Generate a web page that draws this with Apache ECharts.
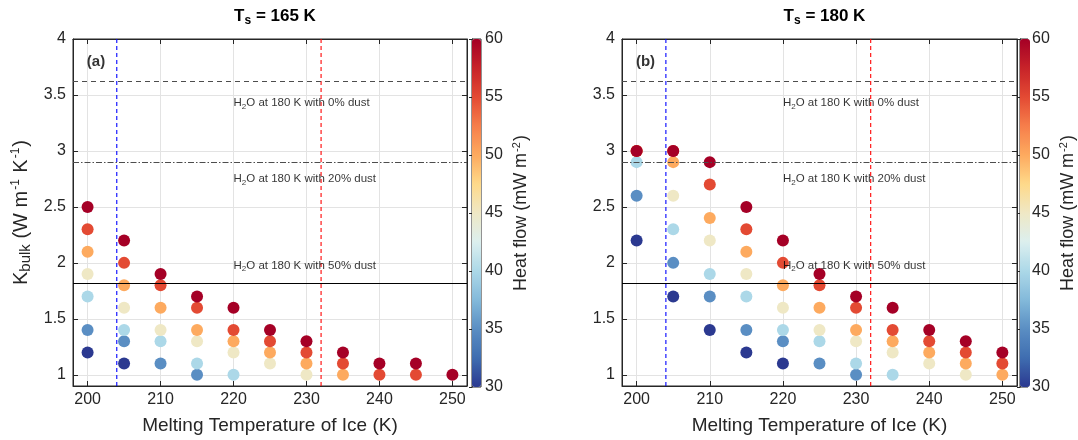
<!DOCTYPE html>
<html>
<head>
<meta charset="utf-8">
<script src="https://cdn.jsdelivr.net/npm/echarts@6/dist/echarts.min.js"></script>
<style>
  html, body { margin: 0; padding: 0; background: #fff; }
  #chart { width: 1078px; height: 440px; }
</style>
</head>
<body>
<div id="chart"></div>
<script>
// melting temperatures of ice (K) and the heat flows (mW m^-2)
var meltTemps = [200, 205, 210, 215, 220, 225, 230, 235, 240, 245, 250];
var heatFlows = [30, 35, 40, 45, 50, 55, 60];

// panel (a): Ts = 165 K, K_bulk per heat flow
var kA30 = [1.2, 1.1, null, null, null, null, null, null, null, null, null];
var kA35 = [1.4, 1.3, 1.1, 1.0, null, null, null, null, null, null, null];
var kA40 = [1.7, 1.4, 1.3, 1.1, 1.0, null, null, null, null, null, null];
var kA45 = [1.9, 1.6, 1.4, 1.3, 1.2, 1.1, 1.0, null, null, null, null];
var kA50 = [2.1, 1.8, 1.6, 1.4, 1.3, 1.2, 1.1, 1.0, null, null, null];
var kA55 = [2.3, 2.0, 1.8, 1.6, 1.4, 1.3, 1.2, 1.1, 1.0, 1.0, null];
var kA60 = [2.5, 2.2, 1.9, 1.7, 1.6, 1.4, 1.3, 1.2, 1.1, 1.1, 1.0];

// panel (b): Ts = 180 K
var kB30 = [2.2, 1.7, 1.4, 1.2, 1.1, null, null, null, null, null, null];
var kB35 = [2.6, 2.0, 1.7, 1.4, 1.3, 1.1, 1.0, null, null, null, null];
var kB40 = [2.9, 2.3, 1.9, 1.7, 1.4, 1.3, 1.1, 1.0, null, null, null];
var kB45 = [3.0, 2.6, 2.2, 1.9, 1.6, 1.4, 1.3, 1.2, 1.1, 1.0, null];
var kB50 = [3.0, 2.9, 2.4, 2.1, 1.8, 1.6, 1.4, 1.3, 1.2, 1.1, 1.0];
var kB55 = [3.0, 3.0, 2.7, 2.3, 2.0, 1.8, 1.6, 1.4, 1.3, 1.2, 1.1];
var kB60 = [3.0, 3.0, 2.9, 2.5, 2.2, 1.9, 1.7, 1.6, 1.4, 1.3, 1.2];

// reference conductivities of H2O at 180 K and the dust fractions
var refK = [3.62, 2.9, 1.82];
var refDust = ['0%', '20%', '50%'];
var refLabelY = [3.43, 2.75, 1.975];
var refLabelX = 220;
var meltLines = [204, 232];
var meltColors = ['#0000ff', '#ff0000'];

var xRange = [198, 252];
var yRange = [0.9, 4];
var xTicks = [200, 210, 220, 230, 240, 250];
var yTicks = [1, 1.5, 2, 2.5, 3, 3.5, 4];
var titles = ['165', '180'];
var panelTags = ['(a)', '(b)'];

var txt = '#262626';
var font = '"Liberation Sans", Arial, Helvetica, sans-serif';
var cmap = ['#2b3990', '#3f6db0', '#5a8ec3', '#83b9da', '#acd8e8', '#dcefef', '#efe8c5',
            '#fed98a', '#fdaa5f', '#f67e4b', '#e34a33', '#c72329', '#a50026'];

function buildPoints(cols){
    var out = [];
    for (var h = 0; h < heatFlows.length; h++){
        for (var i = 0; i < meltTemps.length; i++){
            if (cols[h][i] != null)
                out.push([meltTemps[i], cols[h][i], heatFlows[h]]);
        }
    }
    return out;
}

var pointsA = buildPoints([kA30, kA35, kA40, kA45, kA50, kA55, kA60]);
var pointsB = buildPoints([kB30, kB35, kB40, kB45, kB50, kB55, kB60]);

var panels = [
    {left: 73, width: 394, cbLeft: 472, cbWidth: 9},
    {left: 622, width: 395, cbLeft: 1020, cbWidth: 10}
];

var grids = [], xAxes = [], yAxes = [], series = [], visualMaps = [], titleOpts = [];
var subRich = {
    t: {fontSize: 11.5, color: '#000', fontFamily: font},
    s: {fontSize: 8, color: '#000', fontFamily: font, padding: [7, 0, 0, 0]}
};

panels.forEach(function(p, k){
    var g = k * 2;
    grids.push({left: p.left, width: p.width, top: 39, height: 348,
                show: true, borderColor: txt, borderWidth: 1});
    grids.push({left: p.cbLeft, width: p.cbWidth, top: 39, height: 348,
                show: true, borderColor: txt, borderWidth: 1});

    titleOpts.push({
        text: '{t|T}{s|s}{t| = ' + titles[k] + ' K}',
        left: p.left + p.width / 2, textAlign: 'center', top: 0,
        textStyle: {
            rich: {
                t: {fontSize: 17, fontWeight: 'bold', color: '#000', fontFamily: font},
                s: {fontSize: 12, fontWeight: 'bold', color: '#000', fontFamily: font, padding: [10, 0, 0, 0]}
            }
        }
    });

    // bottom x axis
    xAxes.push({
        type: 'value', gridIndex: g, min: xRange[0], max: xRange[1], position: 'bottom',
        name: 'Melting Temperature of Ice (K)', nameLocation: 'middle', nameGap: 30,
        nameTextStyle: {fontSize: 19, color: txt, fontFamily: font},
        axisLine: {show: true, lineStyle: {color: txt}},
        axisTick: {show: true, inside: true, length: 5, customValues: xTicks, lineStyle: {color: txt}},
        axisLabel: {customValues: xTicks, fontSize: 16, color: txt, fontFamily: font, margin: 6},
        splitLine: {show: true, lineStyle: {color: '#e3e3e3'}}
    });
    // top x axis (box ticks)
    xAxes.push({
        type: 'value', gridIndex: g, min: xRange[0], max: xRange[1], position: 'top',
        axisLine: {show: true, lineStyle: {color: txt}},
        axisTick: {show: true, inside: true, length: 5, customValues: xTicks, lineStyle: {color: txt}},
        axisLabel: {show: false},
        splitLine: {show: false}
    });
    // left y axis
    yAxes.push({
        type: 'value', gridIndex: g, min: yRange[0], max: yRange[1], position: 'left',
        name: k === 0 ? '{t|K}{s|bulk}{t| (W m}{p|-1}{t| K}{p|-1}{t|)}' : '',
        nameLocation: 'middle', nameGap: 40,
        nameTextStyle: {
            rich: {
                t: {fontSize: 20, color: txt, fontFamily: font},
                s: {fontSize: 15, color: txt, fontFamily: font, padding: [9, 0, 0, 0]},
                p: {fontSize: 12, color: txt, fontFamily: font, padding: [0, 1, 10, 1]}
            }
        },
        axisLine: {show: true, lineStyle: {color: txt}},
        axisTick: {show: true, inside: true, length: 5, customValues: yTicks, lineStyle: {color: txt}},
        axisLabel: {customValues: yTicks, fontSize: 16, color: txt, fontFamily: font, margin: 7},
        splitLine: {show: true, lineStyle: {color: '#e3e3e3'}}
    });
    // right y axis (box ticks)
    yAxes.push({
        type: 'value', gridIndex: g, min: yRange[0], max: yRange[1], position: 'right',
        axisLine: {show: true, lineStyle: {color: txt}},
        axisTick: {show: true, inside: true, length: 5, customValues: yTicks, lineStyle: {color: txt}},
        axisLabel: {show: false},
        splitLine: {show: false}
    });

    // colour bar axes
    xAxes.push({type: 'value', gridIndex: g + 1, show: false, min: 0, max: 1});
    yAxes.push({
        type: 'value', gridIndex: g + 1, min: 30, max: 60, interval: 5, position: 'right',
        name: '{t|Heat flow (mW m}{p|-2}{t|)}', nameLocation: 'middle', nameGap: 30,
        nameTextStyle: {
            rich: {
                t: {fontSize: 18, color: txt, fontFamily: font},
                p: {fontSize: 11, color: txt, fontFamily: font, padding: [0, 1, 9, 1]}
            }
        },
        axisLine: {show: true, lineStyle: {color: txt}},
        axisTick: {show: true, inside: true, length: 3, lineStyle: {color: txt}},
        axisLabel: {fontSize: 16, color: txt, fontFamily: font, margin: 4},
        splitLine: {show: false}
    });

    var xi = k * 3, yi = k * 3;
    var refNames = refDust.map(function(d){ return '{t|H}{s|2}{t|O at 180 K with ' + d + ' dust}'; });

    visualMaps.push({
        type: 'continuous', min: 30, max: 60, dimension: 2, seriesIndex: [series.length],
        orient: 'vertical', left: p.cbLeft, top: 39, itemWidth: p.cbWidth, itemHeight: 348,
        padding: 0, calculable: false, text: null, hoverLink: false,
        inRange: {color: cmap}
    });

    series.push({
        type: 'scatter', name: 'points' + k, xAxisIndex: xi, yAxisIndex: yi,
        symbolSize: 12, z: 2, itemStyle: {opacity: 1},
        data: k === 0 ? pointsA : pointsB
    });

    // vertical melting-temperature lines as plain line series
    meltLines.forEach(function(m, j){
        series.push({
            type: 'line', name: 'melt' + k + '_' + j, xAxisIndex: xi, yAxisIndex: yi, z: 3,
            data: [[m, yRange[0]], [m, yRange[1]]],
            showSymbol: false, symbol: 'none', silent: true, color: meltColors[j],
            lineStyle: {color: meltColors[j], type: [4, 3], width: 1.1}
        });
    });

    // text labels; horizontal reference levels hang on this series as markLines
    series.push({
        type: 'scatter', name: 'labels' + k, xAxisIndex: xi, yAxisIndex: yi, symbolSize: 0, z: 4, silent: true,
        data: refLabelY.map(function(y, j){ return {value: [refLabelX, y], label: {formatter: refNames[j]}}; })
            .concat([{value: [199.9, 3.8], label: {formatter: panelTags[k], fontSize: 15, fontWeight: 'bold', color: '#000', fontFamily: font}}]),
        label: {show: true, position: 'right', distance: 0, rich: subRich, fontSize: 11.5},
        markLine: {
            silent: true, symbol: 'none', animation: false,
            label: {show: false},
            data: [
                {yAxis: refK[0], lineStyle: {color: '#4d4d4d', type: [5, 4], width: 1}},
                {yAxis: refK[1], lineStyle: {color: '#4d4d4d', type: [6, 2, 1.5, 2], width: 1}},
                {yAxis: refK[2], lineStyle: {color: '#000000', type: 'solid', width: 1}}
            ]
        }
    });
});

var chart = echarts.init(document.getElementById('chart'));
chart.setOption({
    animation: false,
    backgroundColor: '#fff',
    textStyle: {fontFamily: font},
    title: titleOpts,
    grid: grids,
    xAxis: xAxes,
    yAxis: yAxes,
    visualMap: visualMaps,
    series: series
});
</script>
</body>
</html>
